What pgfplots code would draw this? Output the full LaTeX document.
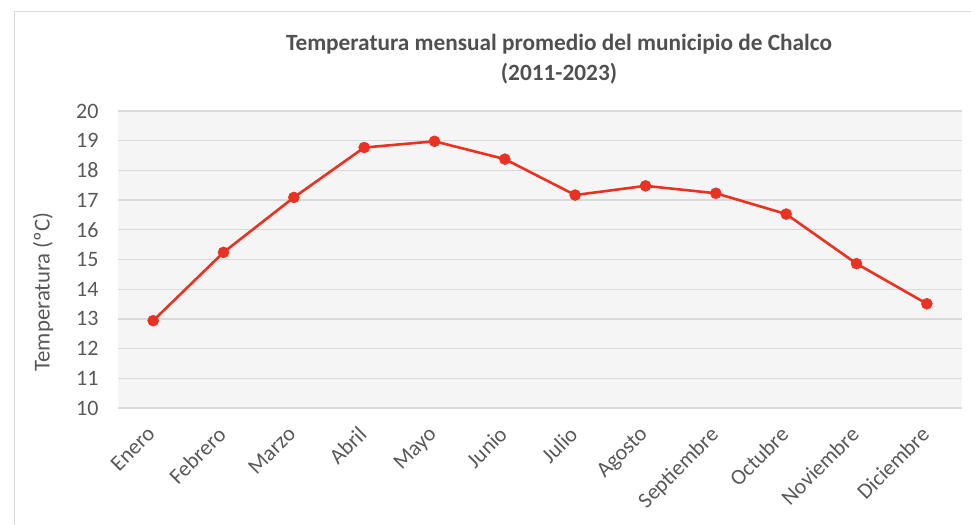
\documentclass[border=0pt]{standalone}
\usepackage{pgfplots}
\pgfplotsset{compat=1.18}
\usepackage{fontspec}
\setmainfont{Carlito}
\definecolor{txt}{RGB}{89,89,89}
\definecolor{ttl}{RGB}{80,80,80}
\definecolor{gridc}{RGB}{217,217,217}
\definecolor{bg}{RGB}{245,245,245}
\definecolor{lin}{RGB}{234,50,35}
\definecolor{framec}{RGB}{217,217,217}
\begin{document}
\begin{tikzpicture}
\path[use as bounding box] (-118bp,-117bp) rectangle (853bp,408bp);
\draw[framec, line width=0.8bp] (-104bp,-120bp) -- (-104bp,397bp) -- (860bp,397bp);
\begin{axis}[
  scale only axis,
  width=844bp, height=297bp,
  xmin=-0.5, xmax=11.5,
  ymin=10, ymax=20,
  ytick={10,11,...,20},
  xtick={0,...,11},
  xticklabels={Enero,Febrero,Marzo,Abril,Mayo,Junio,Julio,Agosto,Septiembre,Octubre,Noviembre,Diciembre},
  /pgf/number format/assume math mode=true,
  axis line style={draw=none},
  major tick length=0pt,
  ymajorgrids=true, xmajorgrids=false,
  major grid style={draw=gridc, line width=1.3bp},
  axis background/.style={fill=bg},
  tick label style={font=\fontsize{22bp}{26bp}\selectfont, text=txt},
  yticklabel style={xshift=-16bp},
  xticklabel style={rotate=45, anchor=north east, yshift=-7bp, xshift=-17bp, inner sep=0pt},
  clip=false,
]
\addplot[lin, line width=2.6bp, mark=*, mark size=5.5bp, mark options={solid, fill=lin, draw=lin, line width=0.5bp}] coordinates {
(0,12.94) (1,15.24) (2,17.09) (3,18.77) (4,18.98) (5,18.38) (6,17.17) (7,17.48) (8,17.23) (9,16.53) (10,14.86) (11,13.51)
};
\end{axis}
\node[rotate=90, text=txt, font=\fontsize{22.8bp}{26bp}\selectfont] at (-75bp,116bp) {Temperatura (ºC)};
\node[text=ttl, font=\bfseries\fontsize{23.3bp}{27bp}\selectfont] at (441bp,364bp) {Temperatura mensual promedio del municipio de Chalco};
\node[text=ttl, font=\bfseries\fontsize{23.3bp}{27bp}\selectfont] at (441bp,334bp) {(2011-2023)};
\end{tikzpicture}
\end{document}
